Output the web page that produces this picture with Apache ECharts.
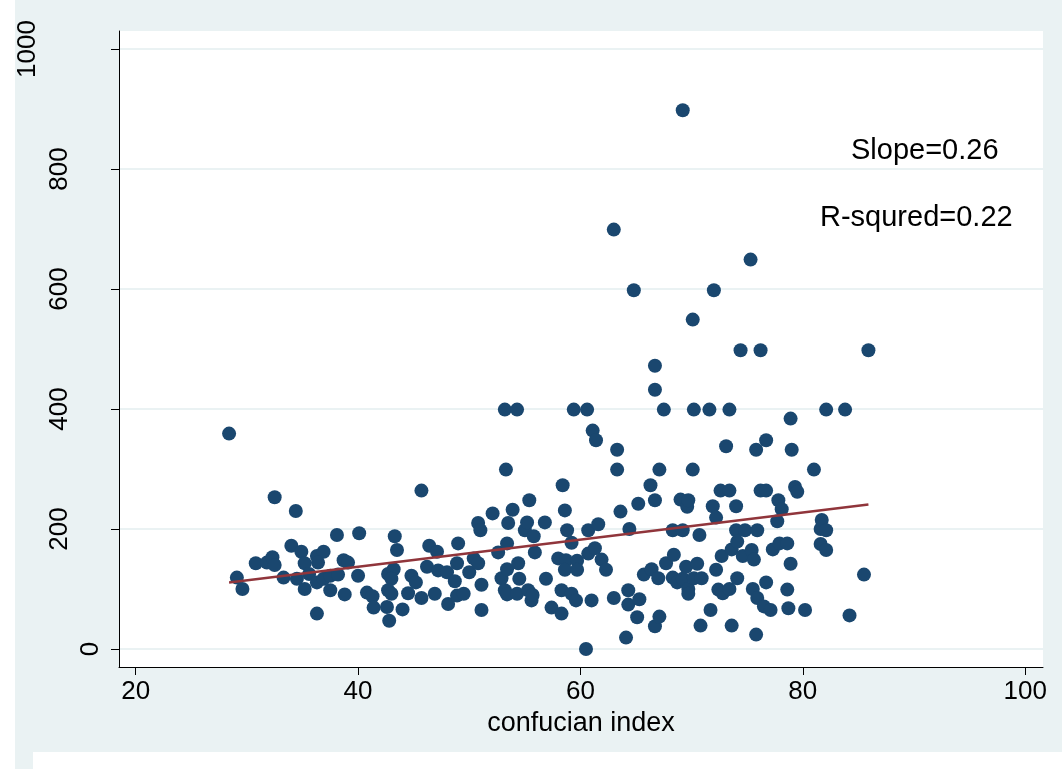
<!DOCTYPE html>
<html>
<head>
<meta charset="utf-8">
<script src="https://cdn.jsdelivr.net/npm/echarts@6/dist/echarts.min.js"></script>
<style>
html,body{margin:0;padding:0;background:#ffffff;}
#chart{width:1062px;height:769px;}
</style>
</head>
<body>
<div id="chart"></div>
<script>
// x: confucian index, y: value
const scatterPoints = [
  [28.4,359],[29.1,119],[29.6,100],[30.8,143],[31.8,144],[32.3,153],[32.5,140],[32.5,253],
  [33.3,119],[34.0,172],[34.4,230],[34.9,162],[35.2,143],[34.5,117],[35.2,100],[35.6,125],
  [36.3,155],[36.9,162],[36.4,144],[36.3,111],[36.9,117],[37.5,122],[37.5,98],[36.3,59],
  [38.1,190],[38.2,124],[38.7,148],[39.1,144],[38.8,91],[40.1,193],[40.0,122],[40.8,94],
  [41.3,88],[41.4,69],[42.7,125],[43.2,133],[43.0,117],[42.7,98],[43.0,92],[42.6,70],
  [42.8,47],[43.3,188],[43.5,165],[44.0,66],[44.5,93],[44.8,122],[45.2,111],[45.7,85],
  [45.7,264],[46.2,137],[46.4,172],[46.9,92],[47.1,162],[47.2,131],[48.0,128],[48.1,75],
  [48.7,113],[48.9,143],[49.0,176],[48.9,89],[49.5,92],[50.0,128],[50.4,151],[50.8,143],
  [50.8,210],[51.0,198],[51.1,107],[51.1,65],[52.1,226],[52.6,161],[52.9,118],[53.2,98],
  [53.4,91],[53.4,133],[53.4,176],[53.5,210],[53.2,399],[53.3,299],[53.9,232],[54.3,399],
  [54.3,92],[54.4,143],[54.5,117],[55.0,198],[55.2,211],[55.3,98],[55.4,248],[55.6,81],
  [55.7,90],[55.8,188],[55.9,161],[56.8,211],[56.9,117],[57.4,69],[58.0,151],[58.3,98],
  [58.3,59],[58.4,273],[58.6,231],[58.8,198],[58.7,148],[58.6,132],[59.2,177],[59.7,147],
  [59.7,132],[59.2,92],[59.6,81],[59.4,399],[60.6,399],[60.5,0],[60.7,198],[60.7,159],
  [61.0,81],[61.1,364],[61.4,348],[61.3,168],[61.6,208],[61.9,149],[62.3,132],[63.0,85],
  [63.0,699],[63.3,332],[63.3,299],[63.6,229],[64.1,19],[64.3,98],[64.3,74],[64.4,200],
  [64.8,598],[65.1,53],[65.2,242],[65.3,83],[65.7,124],[66.3,273],[66.4,133],[66.7,248],
  [66.7,432],[66.7,472],[66.7,38],[67.0,118],[67.1,54],[67.1,299],[67.5,399],[67.7,143],
  [68.3,198],[68.3,119],[68.4,157],[68.7,111],[69.0,249],[69.2,198],[69.2,898],[69.2,117],
  [69.6,237],[69.5,137],[69.7,100],[69.7,92],[69.7,248],[70.1,549],[70.1,299],[70.2,399],
  [70.5,142],[70.7,190],[70.2,118],[70.9,118],[70.8,39],[71.6,399],[71.7,65],[71.9,238],
  [72.0,598],[72.2,219],[72.2,132],[72.4,99],[72.6,264],[72.7,155],[72.8,93],[73.1,338],
  [73.4,264],[73.4,399],[73.4,100],[73.6,166],[73.6,39],[74.0,238],[74.0,198],[74.1,179],
  [74.1,118],[74.4,498],[74.6,155],[74.8,198],[75.3,649],[75.4,165],[75.5,100],[75.6,149],
  [75.8,332],[75.8,24],[75.9,198],[75.9,85],[76.2,264],[76.2,498],[76.5,71],[76.7,264],
  [76.7,348],[76.7,111],[77.1,65],[77.3,166],[77.7,213],[77.8,248],[77.9,176],[78.1,233],
  [78.6,176],[78.6,99],[78.7,68],[78.9,384],[78.9,142],[79.0,332],[79.3,270],[79.5,262],
  [80.2,65],[81.0,299],[81.6,200],[81.6,175],[81.7,215],[82.1,198],[82.1,165],[82.1,399],
  [83.8,399],[84.2,56],[85.5,124],[85.9,498]
];
const fitLine = [[28.4,111],[85.9,241]];
const xTicks = [20,40,60,80,100];
const yTicks = [0,200,400,600,800,1000];
const xTitle = 'confucian index';
const annotations = ['Slope=0.26','R-squred=0.22'];

const chart = echarts.init(document.getElementById('chart'), null, {renderer:'canvas'});
const FONT = '"Liberation Sans", Arial, sans-serif';
const option = {
  animation:false,
  backgroundColor:'#ffffff',
  graphic:[
    {type:'rect', z:-10, silent:true, shape:{x:15,y:0,width:1047,height:769}, style:{fill:'#eaf2f3'}},
    {type:'rect', z:-9, silent:true, shape:{x:33,y:752,width:1029,height:17}, style:{fill:'#ffffff'}},
    {type:'text', left:851, top:136, style:{text:annotations[0], font:'29px '+FONT, fill:'#000'}},
    {type:'text', left:820, top:203, style:{text:annotations[1], font:'29px '+FONT, fill:'#000'}}
  ],
  grid:{left:119, right:19, top:31, bottom:102, show:true, backgroundColor:'#ffffff', borderWidth:0},
  xAxis:{
    type:'value', min:18.5, max:101.6,
    name:xTitle, nameLocation:'middle', nameGap:42,
    nameTextStyle:{fontSize:27, fontFamily:FONT, color:'#000'},
    axisLine:{show:true, onZero:false, lineStyle:{color:'#000', width:1}},
    axisTick:{show:true, customValues:xTicks, length:8, lineStyle:{color:'#000'}},
    axisLabel:{customValues:xTicks, fontSize:26, fontFamily:FONT, color:'#000', margin:12},
    splitLine:{show:false}
  },
  yAxis:{
    type:'value', min:-30, max:1030,
    axisLine:{show:true, onZero:false, lineStyle:{color:'#000', width:1}},
    axisTick:{show:true, customValues:yTicks, length:8, lineStyle:{color:'#000'}},
    axisLabel:{customValues:yTicks, rotate:90, fontSize:26, fontFamily:FONT, color:'#000', margin:15,
      formatter:function(v){ const s=String(v); return '{p'+s.length+'|'+s+'}'; },
      rich:{
        p1:{fontSize:26, fontFamily:FONT, padding:[0,0,0,0]},
        p3:{fontSize:26, fontFamily:FONT, padding:[0,0,31,0]},
        p4:{fontSize:26, fontFamily:FONT, padding:[0,0,63,0]}
      }
    },
    splitLine:{show:true, lineStyle:{color:'#eaf2f3', width:2}}
  },
  series:[
    {type:'scatter', data:scatterPoints, symbol:'circle', symbolSize:14,
     itemStyle:{color:'#1a476f', opacity:1}, z:2},
    {type:'line', data:fitLine, symbol:'none', lineStyle:{color:'#90353b', width:2.5}, z:3}
  ]
};
chart.setOption(option);
</script>
</body>
</html>
